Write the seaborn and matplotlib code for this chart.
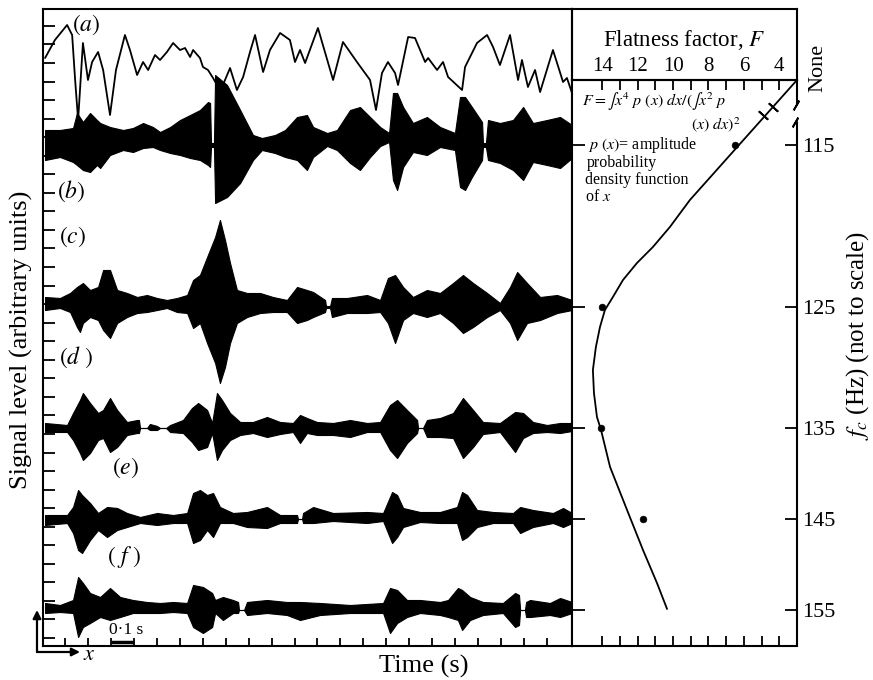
import numpy as np
import matplotlib
matplotlib.use("Agg")
import matplotlib.pyplot as plt
import seaborn as sns

# ---------------------------------------------------------------------------
# Data
# ---------------------------------------------------------------------------
# Filter settings (not to scale) and the vertical level each one occupies
fc_labels = ["None", "115", "125", "135", "145", "155"]
fc_levels = [566, 501, 339, 218, 127, 36]

# Trace (a): smoothed signal level, time in seconds
a_level = 526
a_t = [-0.087, -0.044, 0.009, 0.031, 0.044, 0.057, 0.078, 0.100, 0.118, 0.144,
       0.166, 0.196, 0.222, 0.261, 0.283, 0.314, 0.340, 0.362, 0.392, 0.414,
       0.444, 0.471, 0.501, 0.523, 0.545, 0.558, 0.588, 0.601, 0.623, 0.645,
       0.667, 0.688, 0.719, 0.749, 0.776, 0.806, 0.828, 0.863, 0.893, 0.937,
       0.980, 1.002, 1.024, 1.046, 1.102, 1.168, 1.211, 1.272, 1.329, 1.355,
       1.381, 1.407, 1.438, 1.451, 1.495, 1.525, 1.569, 1.582, 1.621, 1.647,
       1.669, 1.730, 1.743, 1.795, 1.839, 1.865, 1.895, 1.939, 1.974, 1.991,
       2.017, 2.048, 2.070, 2.126, 2.170, 2.187, 2.209]
a_val = [62, 80, 95, 85, 40, 0, 77, 40, 58, 68,
         50, 5, 50, 85, 70, 45, 58, 50, 65, 60,
         68, 77, 70, 72, 63, 70, 62, 53, 50, 42,
         33, 35, 52, 30, 43, 68, 85, 48, 70, 87,
         80, 58, 70, 57, 92, 40, 78, 58, 40, 10,
         47, 58, 47, 35, 83, 82, 58, 62, 50, 58,
         43, 30, 53, 77, 85, 73, 55, 85, 40, 60,
         33, 50, 28, 70, 38, 42, 27]

# Traces (b)-(f): upper / lower envelope of the filtered signal
b_t = [-0.087, -0.022, 0.035, 0.052, 0.078, 0.109, 0.139, 0.153, 0.196, 0.253,
       0.296, 0.340, 0.383, 0.414, 0.458, 0.501, 0.545, 0.588, 0.623, 0.632,
       0.636, 0.649, 0.654, 0.706, 0.763, 0.819, 0.858, 0.915, 0.959, 1.011,
       1.054, 1.081, 1.142, 1.185, 1.242, 1.285, 1.329, 1.373, 1.412, 1.429,
       1.447, 1.473, 1.516, 1.577, 1.634, 1.699, 1.721, 1.743, 1.773, 1.817,
       1.821, 1.834, 1.843, 1.895, 1.952, 1.996, 2.039, 2.100, 2.157, 2.209]
b_up = [15, 15, 17, 32, 23, 32, 25, 22, 18, 15,
        17, 22, 18, 13, 18, 25, 30, 35, 43, 42,
        2, 2, 70, 60, 35, 10, 7, 10, 15, 28,
        30, 18, 12, 15, 35, 38, 28, 18, 12, 52,
        52, 38, 22, 28, 18, 12, 48, 48, 38, 23,
        2, 2, 25, 22, 25, 38, 22, 25, 28, 20]
b_lo = [-15, -12, -17, -20, -25, -27, -20, -23, -10, -5,
        -7, -3, -2, -5, -8, -10, -13, -15, -20, -22,
        -2, -2, -58, -52, -38, -15, -5, -8, -12, -15,
        -25, -12, -1, -5, -18, -25, -12, -1, 3, -35,
        -45, -22, -7, -10, -2, -5, -42, -45, -32, -15,
        -2, -2, -15, -18, -25, -35, -17, -20, -23, -13]

c_t = [-0.087, -0.022, 0.022, 0.052, 0.065, 0.078, 0.109, 0.144, 0.166, 0.196,
       0.227, 0.270, 0.314, 0.357, 0.401, 0.444, 0.488, 0.532, 0.558, 0.588,
       0.619, 0.654, 0.675, 0.697, 0.719, 0.749, 0.793, 0.850, 0.906, 0.967,
       1.011, 1.054, 1.081, 1.133, 1.137, 1.155, 1.163, 1.229, 1.316, 1.373,
       1.407, 1.438, 1.473, 1.516, 1.577, 1.634, 1.691, 1.734, 1.778, 1.839,
       1.895, 1.939, 1.970, 2.013, 2.070, 2.144, 2.209]
c_up = [10, 9, 14, 20, 22, 24, 17, 20, 37, 37,
        17, 14, 10, 12, 9, 7, 9, 12, 27, 32,
        50, 70, 87, 67, 44, 17, 14, 14, 10, 7,
        20, 17, 15, 7, 1, 1, 9, 9, 12, 7,
        29, 32, 20, 10, 17, 14, 24, 32, 24, 14,
        4, 20, 35, 24, 10, 12, 7]
c_lo = [-3, -1, -5, -20, -25, -16, -10, -13, -23, -31,
        -16, -10, -6, -5, -3, -1, -5, -6, -21, -16,
        -36, -56, -76, -60, -36, -16, -10, -6, -5, -5,
        -16, -13, -10, -5, -1, -1, -10, -6, -6, -5,
        -16, -36, -13, -6, -10, -6, -16, -26, -20, -10,
        -3, -16, -33, -16, -13, -6, -3]

d_t = [-0.087, 0.009, 0.035, 0.065, 0.078, 0.109, 0.144, 0.166, 0.196, 0.227,
       0.270, 0.314, 0.322, 0.327, 0.357, 0.370, 0.401, 0.414, 0.440, 0.458,
       0.514, 0.553, 0.580, 0.619, 0.641, 0.662, 0.684, 0.719, 0.763, 0.819,
       0.880, 0.937, 0.993, 1.024, 1.054, 1.098, 1.168, 1.242, 1.316, 1.373,
       1.416, 1.447, 1.490, 1.534, 1.538, 1.560, 1.577, 1.634, 1.691, 1.734,
       1.778, 1.821, 1.895, 1.961, 1.996, 2.039, 2.100, 2.157, 2.209]
d_up = [5, 3, 15, 28, 35, 25, 15, 18, 30, 18,
        6, 8, 8, 0, 0, 4, 2, 0, 0, 3,
        8, 20, 25, 18, 5, 35, 28, 15, 6, 6,
        11, 6, 5, 13, 10, 6, 5, 8, 5, 6,
        23, 28, 18, 8, 0, 0, 8, 10, 15, 30,
        18, 6, 5, 16, 15, 6, 3, 5, 5]
d_lo = [-4, -4, -12, -25, -32, -25, -12, -10, -24, -19,
        -7, -5, -5, 0, 0, -2, -2, 0, 0, -4,
        -5, -14, -22, -19, -5, -32, -22, -12, -7, -5,
        -9, -6, -4, -15, -5, -7, -7, -9, -4, -4,
        -22, -30, -15, -5, 0, 0, -9, -9, -10, -30,
        -19, -6, -4, -24, -10, -5, -4, -5, -3]

e_t = [-0.087, 0.009, 0.035, 0.057, 0.074, 0.109, 0.144, 0.183, 0.227, 0.270,
       0.327, 0.401, 0.471, 0.532, 0.558, 0.588, 0.619, 0.645, 0.675, 0.732,
       0.793, 0.880, 0.937, 1.011, 1.015, 1.033, 1.037, 1.081, 1.168, 1.316,
       1.386, 1.425, 1.447, 1.473, 1.547, 1.634, 1.708, 1.730, 1.752, 1.795,
       1.865, 1.952, 1.983, 2.039, 2.126, 2.170, 2.209]
e_up = [4, 4, 12, 29, 24, 16, 6, 12, 11, 6,
        2, 6, 4, 6, 26, 29, 24, 26, 12, 6,
        7, 12, 4, 4, 0, 0, 6, 12, 6, 7,
        6, 27, 24, 11, 7, 7, 12, 27, 24, 9,
        7, 6, 12, 9, 6, 11, 6]
e_lo = [-6, -4, -14, -31, -34, -21, -11, -18, -11, -8,
        -4, -6, -4, -4, -24, -21, -11, -18, -4, -4,
        -8, -9, -4, -4, 0, 0, -4, -4, -2, -4,
        -2, -24, -18, -8, -3, -4, -4, -21, -18, -8,
        -4, -4, -14, -8, -4, -8, -4]

f_t = [-0.087, -0.022, 0.035, 0.057, 0.078, 0.109, 0.153, 0.196, 0.240, 0.296,
       0.357, 0.414, 0.471, 0.532, 0.558, 0.601, 0.641, 0.654, 0.688, 0.732,
       0.754, 0.758, 0.780, 0.793, 0.880, 0.967, 1.024, 1.111, 1.242, 1.386,
       1.416, 1.447, 1.490, 1.547, 1.634, 1.669, 1.712, 1.730, 1.765, 1.821,
       1.908, 1.961, 1.978, 1.983, 2.004, 2.009, 2.026, 2.113, 2.157, 2.209]
f_up = [7, 5, 10, 33, 27, 17, 13, 22, 13, 10,
        8, 7, 8, 7, 25, 23, 17, 10, 13, 10,
        8, 0, 0, 8, 10, 8, 8, 7, 5, 7,
        22, 20, 10, 10, 8, 10, 22, 20, 13, 8,
        7, 17, 15, 0, 0, 8, 10, 7, 12, 8]
f_lo = [-3, -2, -3, -27, -17, -13, -7, -10, -7, -3,
        -3, -3, -2, -3, -17, -23, -17, -3, -10, -3,
        -3, 0, 0, -5, -3, -5, -10, -5, -3, -3,
        -23, -13, -7, -3, -5, -7, -10, -20, -10, -5,
        -3, -17, -15, 0, 0, -7, -7, -5, -7, -3]

# Flatness factor against filter setting
curve_F = [3.00, 9.05, 10.18, 11.14, 12.04, 12.83, 13.40, 13.85, 14.13, 14.36,
           14.53, 14.47, 14.30, 14.07, 13.56, 12.60, 11.70, 10.91, 10.34]
curve_L = [566, 446, 419, 399, 383, 366, 349, 336, 319, 299,
           276, 253, 229, 216, 179, 136, 96, 63, 37]
curve_break_F = [4.36, 4.92]
curve_break_L = [539, 531]
meas_fc = ["115", "125", "135", "145"]
meas_F = [6.5, 14.0, 14.07, 11.7]

# ---------------------------------------------------------------------------
# Style
# ---------------------------------------------------------------------------
sns.set_theme(style="ticks")
plt.rcParams.update({
    "font.family": ["Liberation Serif", "DejaVu Serif"],
    "mathtext.fontset": "stix",
    "axes.linewidth": 1.5,
    "axes.edgecolor": "black",
    "xtick.color": "black",
    "ytick.color": "black",
    "text.color": "black",
    "axes.facecolor": "white",
    "figure.facecolor": "white",
})

W, H = 873, 680
fig = plt.figure(figsize=(W / 100, H / 100), dpi=100)


def box(x0, y0, x1, y1):
    """Axes rectangle from pixel edges measured from the top-left corner."""
    return [x0 / W, 1 - y1 / H, (x1 - x0) / W, (y1 - y0) / H]


ax = fig.add_axes(box(43, 8.5, 572, 646))
ax_r = fig.add_axes(box(572, 80, 797, 646))
ax_h = fig.add_axes(box(572, 8.5, 797, 80))

# ---------------------------------------------------------------------------
# Left panel: signal traces
# ---------------------------------------------------------------------------
traces = [
    (b_t, b_up, b_lo, fc_levels[1]),
    (c_t, c_up, c_lo, fc_levels[2]),
    (d_t, d_up, d_lo, fc_levels[3]),
    (e_t, e_up, e_lo, fc_levels[4]),
    (f_t, f_up, f_lo, fc_levels[5]),
]
for t, up, lo, lev in traces:
    t = np.asarray(t)
    ax.fill_between(t, lev + np.asarray(up), lev + np.asarray(lo),
                    color="black", lw=0.8, edgecolor="black")

sns.lineplot(x=a_t, y=a_level + np.asarray(a_val), ax=ax, color="black",
             lw=1.3, estimator=None)

ax.set_xlim(-0.096, 2.209)
ax.set_ylim(0, 637.5)
ax.set_xticks(np.arange(0, 2.15, 0.1))
ax.set_yticks(np.arange(8, 625, 18.55))
ax.tick_params(axis="x", direction="in", length=6, width=1.3,
               labelbottom=False, top=False)
ax.tick_params(axis="y", direction="in", length=8.5, width=1.3,
               labelleft=False, right=False)
ax.set_xlabel("")
ax.set_ylabel("")

# 0.1 s scale bar
ax.plot([0.2, 0.3], [4, 4], color="black", lw=2.5, solid_capstyle="butt")
ax.text(0.157, 0.025, "0·1 s", transform=ax.transAxes, fontsize=12.5,
        ha="center", va="center")

panel_tags = [
    (0.081, 0.974, r"$(a)$"),
    (0.053, 0.714, r"$(b)$"),
    (0.055, 0.642, r"$(c)$"),
    (0.062, 0.453, r"$(d\ )$"),
    (0.157, 0.279, r"$(e)$"),
    (0.153, 0.140, r"$(\ f\ )$"),
]
for x, y, s in panel_tags:
    ax.text(x, y, s, transform=ax.transAxes, fontsize=17,
            ha="center", va="center")

# ---------------------------------------------------------------------------
# Right panel: flatness factor
# ---------------------------------------------------------------------------
sns.lineplot(x=curve_F, y=curve_L, ax=ax_r, sort=False, estimator=None,
             color="black", lw=1.3)
ax_r.plot(curve_break_F, curve_break_L, ls="none", marker=(2, 2, 48),
          ms=9, mew=1.3, color="black")
meas_L = [fc_levels[fc_labels.index(f)] for f in meas_fc]
sns.scatterplot(x=meas_F, y=meas_L, ax=ax_r, s=24, color="black",
                edgecolor="black", zorder=3)

ax_r.set_xlim(15.71, 3.0)
ax_r.set_ylim(0, 566)
ax_r.set_xlabel("")
ax_r.set_ylabel("")
ax_r.xaxis.tick_top()
ax_r.set_xticks([14, 12, 10, 8, 6, 4])
ax_r.set_xticks([13, 11, 9, 7, 5], minor=True)
ax_r.tick_params(axis="x", which="both", direction="in", top=True,
                 bottom=True, labeltop=True, labelbottom=False, length=7,
                 width=1.3, labelsize=15, pad=3)
ax_r.set_yticks(fc_levels[1:])
ax_r.set_yticklabels(fc_labels[1:])
ax_r.tick_params(axis="y", direction="in", left=True, right=True,
                 labelleft=False, labelright=True, length=9, width=1.3,
                 labelsize=16, pad=4)
ax_r.text(1.093, fc_levels[0] + 12, fc_labels[0],
          transform=ax_r.get_yaxis_transform(), rotation=90, fontsize=16,
          ha="center", va="center", clip_on=False)

# broken right-hand axis near the top
ax_r.spines["right"].set_visible(False)
ax_r.plot([1, 1], [0, 0.926], transform=ax_r.transAxes, color="black",
          lw=1.5, clip_on=False)
ax_r.plot([1, 1], [0.956, 1], transform=ax_r.transAxes, color="black",
          lw=1.5, clip_on=False)
ax_r.plot([0.995, 0.99], [0.956, 0.926], transform=ax_r.transAxes, ls="none",
          marker=(2, 2, -30), ms=8, mew=1.3, color="black", clip_on=False)

note_kw = dict(transform=ax_r.transAxes, fontsize=11.5, va="center")
ax_r.text(0.045, 0.963, r"$F=\int x^4\ p\ (x)\ dx/(\int x^2\ p$",
          ha="left", **note_kw)
ax_r.text(0.75, 0.921, r"$(x)\ dx)^2$", ha="right", **note_kw)
ax_r.text(0.071, 0.885, r"$p\ (x)$= amplitude", ha="left", **note_kw)
ax_r.text(0.067, 0.854, "probability", ha="left", **note_kw)
ax_r.text(0.058, 0.824, "density function", ha="left", **note_kw)
ax_r.text(0.058, 0.794, r"of $x$", ha="left", **note_kw)

# header box holding the flatness-factor scale
ax_h.set_xticks([])
ax_h.set_yticks([])
ax_h.patch.set_visible(False)
for sp in ax_h.spines.values():
    sp.set_linewidth(1.5)
ax_h.text(0.5, 0.56, "Flatness factor, $F$", transform=ax_h.transAxes,
          ha="center", va="center", fontsize=16.5)

# ---------------------------------------------------------------------------
# Figure-level labels and axis arrows
# ---------------------------------------------------------------------------
fig.text(424 / W, 1 - 666 / H, "Time (s)", ha="center", va="center",
         fontsize=19)
fig.text(21 / W, 1 - 340 / H, "Signal level (arbitrary units)", ha="center",
         va="center", rotation=90, fontsize=19)
fig.text(858 / W, 1 - 335 / H, r"$f_c$ (Hz) (not to scale)", ha="center",
         va="center", rotation=90, fontsize=18)

arrow = dict(arrowstyle="-|>", lw=1.6, color="black", mutation_scale=12,
             shrinkA=0, shrinkB=0)
origin = (37 / W, 1 - 652 / H)
fig.add_artist(matplotlib.patches.FancyArrowPatch(
    origin, (37 / W, 1 - 610 / H), transform=fig.transFigure, **arrow))
fig.add_artist(matplotlib.patches.FancyArrowPatch(
    origin, (80 / W, 1 - 652 / H), transform=fig.transFigure, **arrow))
fig.text(89 / W, 1 - 655 / H, r"$x$", ha="center", va="center", fontsize=16)

fig.savefig("out.png", dpi=100)
